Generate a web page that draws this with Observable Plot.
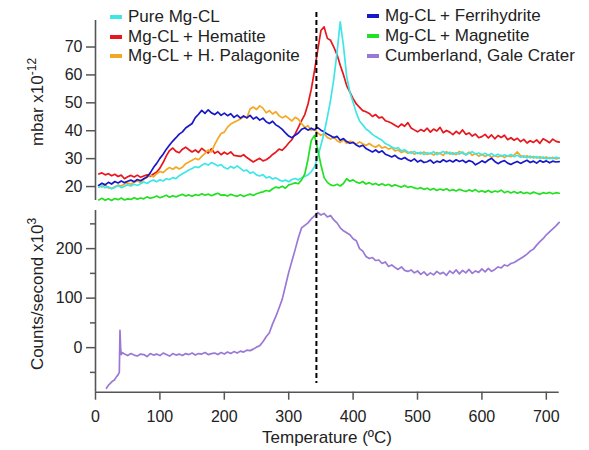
<!DOCTYPE html>
<html><head><meta charset="utf-8">
<script src="https://cdn.jsdelivr.net/npm/d3@7"></script>
<script src="https://cdn.jsdelivr.net/npm/@observablehq/plot@0.6"></script>
<style>
body{margin:0;background:#fff;}
#wrap{position:relative;width:589px;height:450px;font-family:"Liberation Sans",Arial,sans-serif;color:#222;overflow:hidden;}
#wrap svg{position:absolute;left:0;}
.leg{position:absolute;font-size:17px;line-height:20px;white-space:nowrap;}
.sw{position:absolute;width:12px;height:4px;}
.ytitle{position:absolute;font-size:17px;white-space:nowrap;transform:translate(-50%,-50%) rotate(-90deg);}
.ytitle sup{font-size:12px;vertical-align:7px;}
.xtitle{position:absolute;font-size:17px;white-space:nowrap;transform:translate(-50%,-50%);}
</style></head><body><div id="wrap"></div>
<script>
// Temperature grid (ºC) for the five EGA lab curves
const temps = d3.range(5, 721, 5);

const seriesNames = ["Pure Mg-CL", "Mg-CL + Hematite", "Mg-CL + H. Palagonite", "Mg-CL + Ferrihydrite", "Mg-CL + Magnetite", "Cumberland, Gale Crater"];
const seriesColors = ["#3fe6e6", "#e8161d", "#f4a722", "#1818c8", "#22e022", "#9a78d6"];

const pureMgCL = [
 19.8,20.3,19.6,19.9,19.2,19.7,20.4,19.6,20.1,20.6,
 20.2,20.8,20.4,21.0,21.6,21.1,21.9,22.3,21.7,22.4,
 22.0,22.8,22.5,23.2,22.8,23.9,24.6,25.2,25.9,26.5,
 27.1,26.8,27.6,28.3,27.7,28.6,28.1,27.4,27.9,26.8,
 26.3,27.2,26.6,27.4,26.5,25.6,25.9,24.8,25.2,24.2,
 23.8,24.3,23.1,23.5,22.7,23.1,22.4,21.9,22.3,21.7,
 22.5,22.9,22.4,23.1,23.6,24.2,25.3,27.0,30.5,34.8,
 39.2,44.9,51.0,58.5,68.0,79.0,70.5,59.5,53.8,50.2,
 46.4,43.5,42.1,40.6,39.8,38.7,37.9,37.2,36.6,35.4,
 34.9,34.2,33.6,33.9,32.8,33.2,32.4,31.9,32.6,31.8,
 32.3,31.5,32.1,31.7,32.5,31.4,32.0,32.6,31.8,32.3,
 31.5,32.1,31.6,32.4,31.3,31.9,32.5,31.6,32.0,31.4,
 31.9,31.2,31.8,31.0,31.6,30.8,31.4,30.9,31.5,30.7,
 31.2,30.5,31.0,30.3,30.9,30.2,30.7,30.1,30.6,29.9,
 30.4,30.0,30.5,30.2];

const hematite = [
 24.5,24.9,24.2,24.6,23.9,24.4,23.6,24.1,22.8,23.5,
 24.0,23.4,24.1,23.3,23.8,24.2,23.6,24.5,25.2,26.6,
 28.6,31.0,32.9,33.8,32.6,32.1,33.4,34.1,33.2,32.4,
 33.1,32.2,33.7,32.8,32.0,33.5,31.9,32.6,31.4,32.3,
 31.6,32.4,31.2,31.0,30.8,31.4,30.4,29.6,28.8,29.5,
 30.1,29.2,29.6,30.4,31.5,32.3,33.4,33.0,34.2,35.6,
 36.8,38.9,41.2,43.6,45.8,49.6,54.8,61.5,68.8,75.9,
 77.2,73.1,72.4,70.0,67.3,63.5,60.1,56.2,53.8,51.5,
 49.6,48.4,47.2,46.8,46.2,45.1,45.8,44.6,44.9,43.6,
 43.2,42.7,42.0,41.3,42.4,41.6,42.9,41.0,40.3,39.6,
 40.4,39.8,40.9,39.5,40.6,39.9,41.2,39.3,40.1,39.5,
 38.6,39.8,38.9,40.3,38.7,39.2,38.1,38.8,37.5,37.9,
 38.7,37.4,38.5,37.1,38.3,37.6,38.4,36.8,37.5,36.6,
 37.3,36.1,36.9,35.6,36.4,35.8,36.7,35.5,37.1,36.5,
 35.7,37.0,36.2,35.9];

const palagonite = [
 20.4,19.8,20.6,19.5,19.3,19.9,20.5,20.2,20.9,21.3,
 20.8,21.6,22.0,21.5,22.6,23.4,24.0,23.5,24.6,25.4,
 25.0,26.1,26.8,26.2,27.0,26.3,26.9,28.2,28.8,29.4,
 30.1,29.6,30.8,31.9,33.1,32.4,35.0,37.2,39.0,39.5,
 41.3,42.4,43.0,43.6,44.2,45.1,44.6,47.8,48.5,47.6,
 48.9,48.1,46.4,47.2,46.0,46.8,45.4,44.6,45.3,44.4,
 43.5,44.8,44.1,42.6,41.2,41.8,40.1,40.6,39.2,38.4,
 38.9,37.6,37.0,37.8,36.4,35.8,36.7,35.5,36.2,35.9,
 35.2,36.0,35.3,34.7,35.4,34.6,34.1,34.9,33.8,34.2,
 33.4,33.9,32.8,33.1,32.2,32.7,31.9,32.5,31.6,32.1,
 31.7,32.4,31.5,32.0,31.3,32.2,31.8,31.2,32.5,31.6,
 32.1,31.4,32.6,31.9,31.5,32.3,31.2,31.8,30.9,31.5,
 30.8,31.4,30.5,31.1,30.6,31.2,30.4,31.0,30.7,31.3,
 32.4,31.1,30.5,31.0,30.3,30.8,30.2,30.7,30.1,30.6,
 30.0,30.5,29.9,30.2];

const ferrihydrite = [
 20.4,21.2,20.6,21.5,20.9,21.8,21.3,22.0,21.4,21.9,
 22.3,21.7,22.5,22.1,22.8,23.4,24.9,26.8,28.3,30.1,
 31.6,33.4,34.9,36.3,37.5,38.8,39.6,41.0,41.8,42.6,
 44.7,45.9,47.3,46.2,47.5,46.4,45.8,46.7,45.5,46.3,
 45.4,46.1,44.8,45.6,44.5,45.3,44.6,45.5,44.2,44.9,
 43.8,44.5,43.2,42.6,43.4,42.1,41.4,40.5,39.2,38.1,
 37.5,38.4,39.2,40.5,41.0,40.2,40.9,40.3,41.1,40.2,
 39.6,38.8,38.2,37.5,38.0,36.6,37.2,36.1,35.5,35.8,
 34.9,34.3,34.8,33.6,33.0,32.4,33.1,32.2,32.8,31.6,
 31.1,30.6,31.2,30.2,29.8,30.4,29.6,29.1,29.9,28.8,
 29.4,28.6,28.9,29.5,28.4,29.1,28.7,29.6,28.9,29.4,
 28.8,29.6,29.0,29.4,28.6,29.3,28.9,27.8,28.4,29.2,
 28.6,29.5,30.1,29.0,28.2,28.9,29.3,28.4,27.9,28.5,
 29.0,28.3,28.9,29.4,28.6,29.1,28.4,29.3,28.7,29.2,
 28.5,29.1,28.8,28.9];

const magnetite = [
 15.2,15.8,15.1,15.6,15.0,15.7,15.3,15.9,15.2,15.6,
 15.4,16.0,15.5,15.9,15.6,16.3,15.8,16.1,16.6,16.0,
 16.4,16.9,16.2,16.7,16.3,16.8,17.2,16.6,17.0,16.5,
 17.1,16.8,17.4,16.9,17.3,16.7,17.2,17.6,16.9,17.0,
 16.6,17.2,16.8,16.5,17.1,16.4,16.9,17.3,16.8,17.4,
 17.8,18.1,18.6,18.3,19.2,19.8,19.5,20.1,19.4,20.6,
 20.9,21.3,21.0,22.4,24.5,29.8,36.5,38.3,33.4,27.8,
 23.2,21.5,20.6,20.3,20.8,20.2,21.1,22.8,21.9,22.4,
 21.6,21.2,21.8,20.9,21.4,20.7,21.1,20.5,21.0,20.4,
 20.8,20.1,20.6,20.2,19.8,20.4,19.7,20.0,19.5,19.2,
 19.6,19.0,19.4,18.8,19.3,18.6,19.1,18.7,19.2,18.5,
 18.9,18.4,19.0,18.6,18.2,18.8,18.3,18.9,18.1,18.5,
 18.0,18.6,17.9,18.4,18.1,18.7,17.8,18.3,17.7,18.2,
 17.6,18.1,17.5,17.9,17.4,18.0,17.6,17.2,17.8,17.5,
 17.9,17.4,17.8,17.6];

// Cumberland (SAM EGA) counts/second x10^3
const cumberlandT = [17,20,23,26,29,32,35,37,38,39,40,42].concat(d3.range(45, 721, 5));
const cumberland = [
 -82,-76,-72,-68,-66,-60,-55,-50,35,0,-14,-10,
 -13,-16,-12,-15,-17,-13,-14,-18,-12,-15,
 -13,-16,-11,-14,-17,-12,-15,-13,-16,-12,
 -14,-11,-15,-12,-13,-10,-14,-12,-11,-14,
 -10,-13,-9,-12,-8,-11,-7,-9,-5,-6,
 -3,1,4,12,22,30,48,63,80,98,
 125,152,175,198,222,242,247,252,260,266,
 273,268,271,264,267,258,252,242,236,232,
 228,220,216,200,195,184,180,182,176,177,
 170,173,164,167,162,158,163,156,154,157,
 151,155,148,153,146,151,147,154,149,152,
 146,155,150,157,149,156,151,158,150,155,
 152,159,153,160,154,158,163,161,167,165,
 170,172,176,180,184,189,195,199,207,214,
 220,228,234,240,246,253];

const xTicks = [0,100,200,300,400,500,600,700];
const topTicks = [20,30,40,50,60,70];
const botMajor = [0,100,200];
const botMinor = [-50,50,150,250];
const dashedT = 343;

const xDomain = [0, 720];
const topDomain = [15, 79.5];
const botDomain = [-90, 277];

const rows = (vals, tt) => vals.slice(0, tt.length).map((v, i) => ({T: tt[i], v}));
const labSeries = [pureMgCL, hematite, palagonite, ferrihydrite, magnetite];
const drawOrder = [1, 2, 3, 0, 4];

const font = '"Liberation Sans", Arial, sans-serif';
const axisGray = "#555";

const topPlot = Plot.plot({
  width: 589, height: 205,
  marginTop: 20, marginBottom: 5, marginLeft: 95, marginRight: 30.3,
  x: {domain: xDomain, axis: null},
  y: {domain: topDomain},
  style: {fontFamily: font, fontSize: "16px", color: "#222", background: "transparent", overflow: "visible"},
  marks: [
    Plot.ruleX([xDomain[0]], {stroke: axisGray, strokeWidth: 1.6}),
    Plot.axisY({ticks: topTicks, tickSize: 9, tickPadding: 4, stroke: axisGray, strokeWidth: 1.5, label: null}),
    ...drawOrder.map(k => Plot.line(rows(labSeries[k], temps), {x: "T", y: "v", stroke: seriesColors[k], strokeWidth: 1.7})),
    Plot.ruleX([dashedT], {y1: 82.4, y2: 13.2, stroke: "#000", strokeWidth: 2, strokeDasharray: "5,3"})
  ]
});
topPlot.style.top = "0px";

const botPlot = Plot.plot({
  width: 589, height: 245,
  marginTop: 5, marginBottom: 58.3, marginLeft: 95, marginRight: 30.3,
  x: {domain: xDomain},
  y: {domain: botDomain},
  style: {fontFamily: font, fontSize: "16px", color: "#222", background: "transparent", overflow: "visible"},
  marks: [
    Plot.ruleX([xDomain[0]], {stroke: axisGray, strokeWidth: 1.6}),
    Plot.ruleY([botDomain[0]], {stroke: axisGray, strokeWidth: 1.6}),
    Plot.axisY({ticks: botMajor, tickSize: 9, tickPadding: 4, stroke: axisGray, strokeWidth: 1.5, label: null}),
    Plot.axisY({ticks: botMinor, tickSize: 5, tickFormat: () => "", stroke: axisGray, strokeWidth: 1.5, label: null}),
    Plot.axisX({ticks: xTicks, tickSize: 8, tickPadding: 10, stroke: axisGray, strokeWidth: 1.5, label: null}),
    Plot.line(rows(cumberland, cumberlandT), {x: "T", y: "v", stroke: seriesColors[5], strokeWidth: 1.7}),
    Plot.ruleX([dashedT], {y1: 287, y2: -72.4, stroke: "#000", strokeWidth: 2, strokeDasharray: "5,3"})
  ]
});
botPlot.style.top = "205px";

const wrap = document.getElementById("wrap");
wrap.appendChild(topPlot);
wrap.appendChild(botPlot);

// legend (two columns)
const legPos = [[110, 7], [110, 27], [110, 46], [367, 6], [367, 26], [367, 46]];
seriesNames.forEach((name, i) => {
  const [lx, ly] = legPos[i];
  const sw = document.createElement("div");
  sw.className = "sw";
  sw.style.left = lx + "px";
  sw.style.top = (ly + 8) + "px";
  sw.style.background = seriesColors[i];
  wrap.appendChild(sw);
  const t = document.createElement("div");
  t.className = "leg";
  t.style.left = (lx + 18) + "px";
  t.style.top = ly + "px";
  t.textContent = name;
  wrap.appendChild(t);
});

const yt1 = document.createElement("div");
yt1.className = "ytitle";
yt1.style.left = "36px"; yt1.style.top = "102px";
yt1.innerHTML = "mbar x10<sup>-12</sup>";
wrap.appendChild(yt1);

const yt2 = document.createElement("div");
yt2.className = "ytitle";
yt2.style.left = "36px"; yt2.style.top = "294px";
yt2.innerHTML = "Counts/second x10<sup>3</sup>";
wrap.appendChild(yt2);

const xt = document.createElement("div");
xt.className = "xtitle";
xt.style.left = "327px"; xt.style.top = "438px";
xt.textContent = "Temperature (ºC)";
wrap.appendChild(xt);
</script>
</body></html>
